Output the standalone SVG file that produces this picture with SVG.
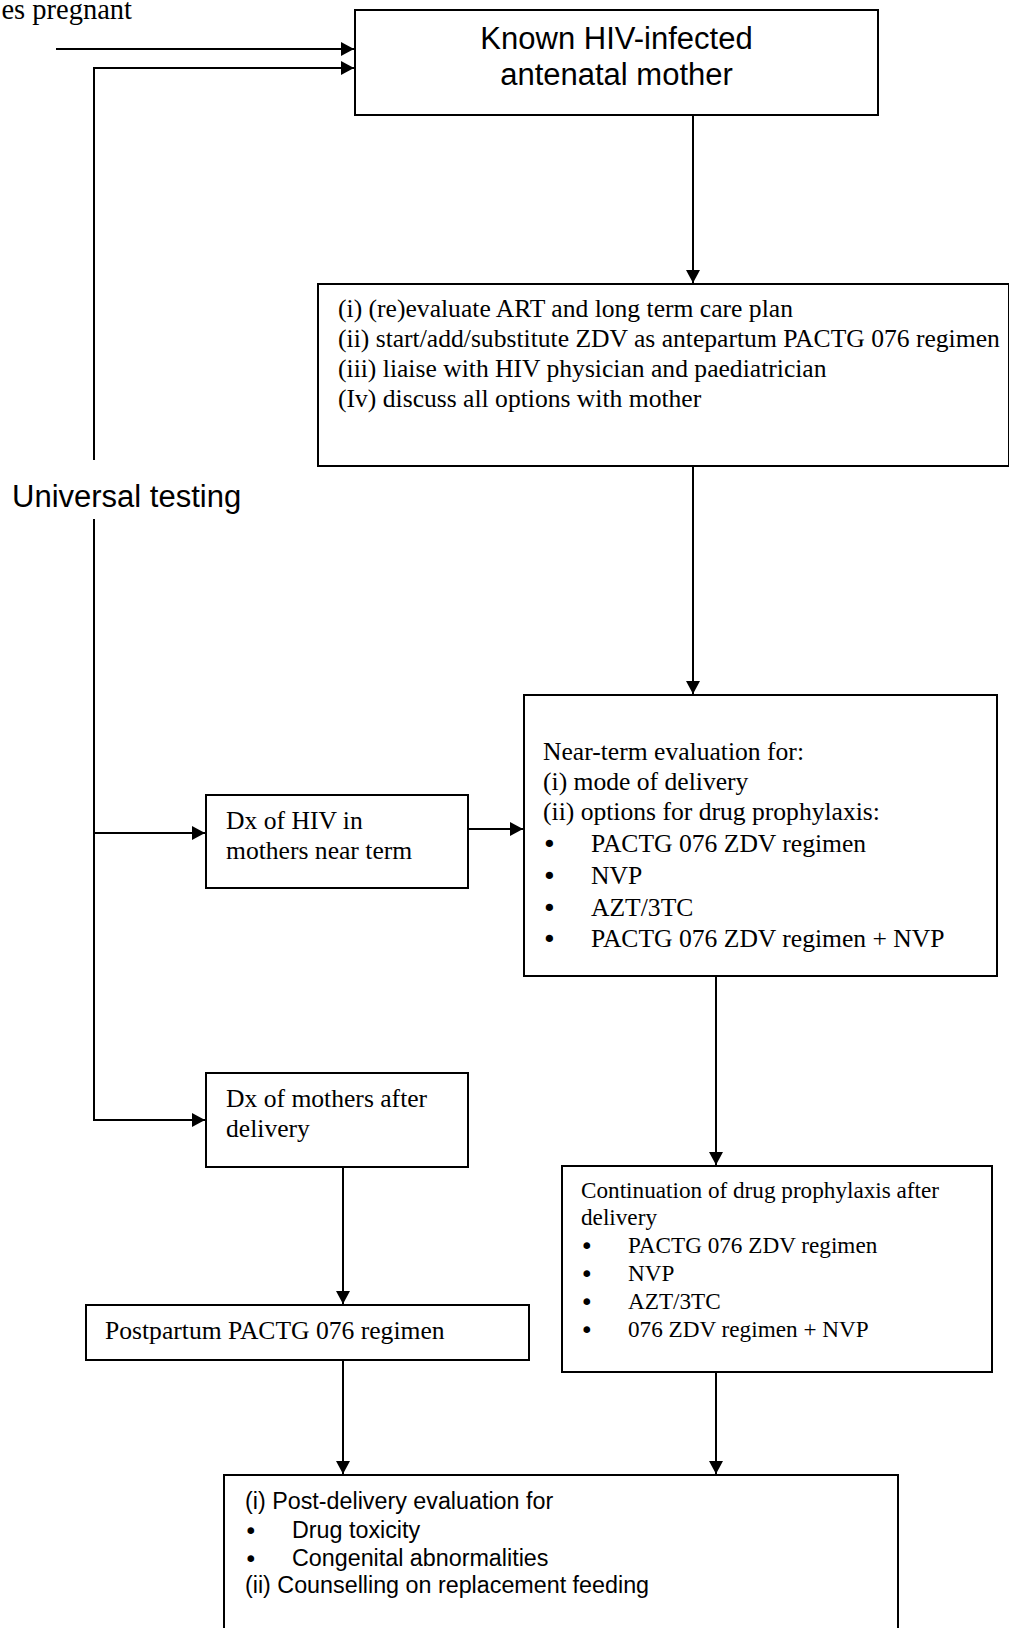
<svg xmlns="http://www.w3.org/2000/svg" width="1009" height="1628" viewBox="0 0 1009 1628">
<style>
.box{fill:#fff;stroke:#000;stroke-width:2}
.ln{fill:none;stroke:#000;stroke-width:2}
.tr{font-family:"Liberation Serif","Times New Roman",serif;font-size:25.6px;fill:#000}
.trs{font-family:"Liberation Serif","Times New Roman",serif;font-size:23.2px;fill:#000}
.ar{font-family:"Liberation Sans",Arial,sans-serif;fill:#000}
.bl{font-family:"DejaVu Sans",sans-serif;font-size:25px;fill:#000}
.bls{font-family:"DejaVu Sans",sans-serif;font-size:23px;fill:#000}
</style>
<defs>
<marker id="ah" markerUnits="userSpaceOnUse" markerWidth="14" markerHeight="14" refX="13" refY="7" orient="auto">
<path d="M0,0 L13,7 L0,14 z" fill="#000"/>
</marker>
</defs>
<rect width="1009" height="1628" fill="#fff"/>
<g id="connectors">
<path class="ln" d="M56,49 H354" marker-end="url(#ah)"/>
<path class="ln" d="M94,460 V68 H354" marker-end="url(#ah)"/>
<path class="ln" d="M94,519 V1120 H205" marker-end="url(#ah)"/>
<path class="ln" d="M94,833 H205" marker-end="url(#ah)"/>
<path class="ln" d="M693,115 V283" marker-end="url(#ah)"/>
<path class="ln" d="M693,466 V694" marker-end="url(#ah)"/>
<path class="ln" d="M468,829 H523" marker-end="url(#ah)"/>
<path class="ln" d="M716,976 V1165" marker-end="url(#ah)"/>
<path class="ln" d="M343,1167 V1304" marker-end="url(#ah)"/>
<path class="ln" d="M343,1360 V1474" marker-end="url(#ah)"/>
<path class="ln" d="M716,1372 V1474" marker-end="url(#ah)"/>
</g>
<g id="label-pregnant">
<text x="132" y="19" text-anchor="end" style="font-family:'Liberation Serif','Times New Roman',serif;font-size:28.5px;fill:#000">es pregnant</text>
</g>
<g id="label-universal">
<text class="ar" x="12" y="507" font-size="31">Universal testing</text>
</g>
<g id="known">
<rect class="box" x="355" y="10" width="523" height="105"/>
<text class="ar" x="616.5" y="49" font-size="31" text-anchor="middle">Known HIV-infected</text>
<text class="ar" x="616.5" y="85" font-size="31" text-anchor="middle">antenatal mother</text>
</g>
<g id="evaluate">
<rect class="box" x="318" y="284" width="691" height="182"/>
<text class="tr" x="338" y="317">(i) (re)evaluate ART and long term care plan</text>
<text class="tr" x="338" y="347">(ii) start/add/substitute ZDV as antepartum PACTG 076 regimen</text>
<text class="tr" x="338" y="377">(iii) liaise with HIV physician and paediatrician</text>
<text class="tr" x="338" y="407">(Iv) discuss all options with mother</text>
</g>
<g id="nearterm">
<rect class="box" x="524" y="695" width="473" height="281"/>
<text class="tr" x="543" y="760">Near-term evaluation for:</text>
<text class="tr" x="543" y="790">(i) mode of delivery</text>
<text class="tr" x="543" y="820">(ii) options for drug prophylaxis:</text>
<text class="bl" x="542" y="853">•</text><text class="tr" x="591" y="852">PACTG 076 ZDV regimen</text>
<text class="bl" x="542" y="885">•</text><text class="tr" x="591" y="884">NVP</text>
<text class="bl" x="542" y="917">•</text><text class="tr" x="591" y="916">AZT/3TC</text>
<text class="bl" x="542" y="948">•</text><text class="tr" x="591" y="947">PACTG 076 ZDV regimen + NVP</text>
</g>
<g id="dx-near-term">
<rect class="box" x="206" y="795" width="262" height="93"/>
<text class="tr" x="226" y="828.5">Dx of HIV in</text>
<text class="tr" x="226" y="858.5">mothers near term</text>
</g>
<g id="dx-after">
<rect class="box" x="206" y="1073" width="262" height="94"/>
<text class="tr" x="226" y="1107">Dx of mothers after</text>
<text class="tr" x="226" y="1137">delivery</text>
</g>
<g id="continuation">
<rect class="box" x="562" y="1166" width="430" height="206"/>
<text class="trs" x="581" y="1198">Continuation of drug prophylaxis after</text>
<text class="trs" x="581" y="1225">delivery</text>
<text class="bls" x="580" y="1254">•</text><text class="trs" x="628" y="1253">PACTG 076 ZDV regimen</text>
<text class="bls" x="580" y="1282">•</text><text class="trs" x="628" y="1281">NVP</text>
<text class="bls" x="580" y="1310">•</text><text class="trs" x="628" y="1309">AZT/3TC</text>
<text class="bls" x="580" y="1338">•</text><text class="trs" x="628" y="1337">076 ZDV regimen + NVP</text>
</g>
<g id="postpartum">
<rect class="box" x="86" y="1305" width="443" height="55"/>
<text class="tr" x="105" y="1339">Postpartum PACTG 076 regimen</text>
</g>
<g id="post-delivery">
<rect class="box" x="224" y="1475" width="674" height="170"/>
<text class="ar" x="245" y="1509" font-size="23.3">(i) Post-delivery evaluation for</text>
<text class="bls" x="244" y="1539">•</text><text class="ar" x="292" y="1538" font-size="23.3">Drug toxicity</text>
<text class="bls" x="244" y="1567">•</text><text class="ar" x="292" y="1566" font-size="23.3">Congenital abnormalities</text>
<text class="ar" x="245" y="1593" font-size="23.3">(ii) Counselling on replacement feeding</text>
</g>
</svg>
